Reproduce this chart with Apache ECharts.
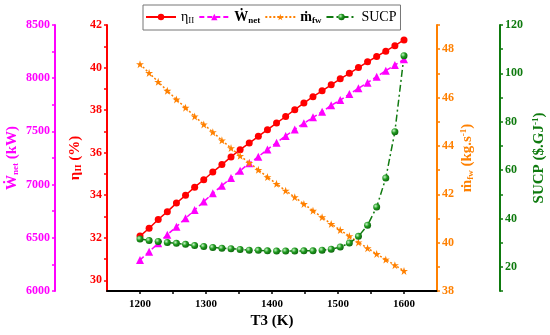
<!DOCTYPE html>
<html><head><meta charset="utf-8">
<script src="https://cdn.jsdelivr.net/npm/echarts@6/dist/echarts.min.js"></script>
<style>html,body{margin:0;padding:0;background:#fff}#c{width:550px;height:335px}</style>
</head><body><div id="c"></div>
<script>
// ---- data ----
const T3 = [1200, 1213.8, 1227.6, 1241.4, 1255.2, 1269.0, 1282.8, 1296.6, 1310.3, 1324.1, 1337.9, 1351.7, 1365.5, 1379.3, 1393.1, 1406.9, 1420.7, 1434.5, 1448.3, 1462.1, 1475.9, 1489.7, 1503.4, 1517.2, 1531.0, 1544.8, 1558.6, 1572.4, 1586.2, 1600];
const etaII = [32.08, 32.45, 32.86, 33.23, 33.63, 34.0, 34.38, 34.73, 35.09, 35.44, 35.80, 36.14, 36.45, 36.77, 37.08, 37.39, 37.70, 38.02, 38.33, 38.63, 38.91, 39.19, 39.47, 39.73, 40.0, 40.27, 40.52, 40.77, 41.03, 41.30];
const Wnet = [6291, 6370, 6448, 6529, 6605, 6683, 6761, 6840, 6918, 6990, 7062, 7131, 7200, 7262, 7331, 7394, 7457, 7519, 7576, 7632, 7685, 7745, 7795, 7851, 7905, 7958, 8014, 8071, 8124, 8177];
const mfw = [47.38, 47.02, 46.65, 46.28, 45.92, 45.58, 45.22, 44.89, 44.57, 44.23, 43.91, 43.59, 43.30, 43.01, 42.71, 42.43, 42.15, 41.88, 41.60, 41.32, 41.05, 40.77, 40.52, 40.27, 40.01, 39.77, 39.53, 39.30, 39.07, 38.83];
const SUCP = [31.5, 30.9, 30.5, 30.1, 29.7, 29.3, 28.8, 28.4, 28.0, 27.7, 27.5, 27.2, 26.9, 26.8, 26.6, 26.5, 26.5, 26.5, 26.6, 26.6, 26.9, 27.3, 28.2, 29.8, 32.6, 37.2, 44.7, 56.7, 75.9, 107.3];

const xLabels = [1200, 1300, 1400, 1500, 1600];
const xTicks = [1200, 1250, 1300, 1350, 1400, 1450, 1500, 1550, 1600];
const etaLabels = [30, 32, 34, 36, 38, 40, 42];
const etaTicks = [30, 31, 32, 33, 34, 35, 36, 37, 38, 39, 40, 41, 42];
const wLabels = [6000, 6500, 7000, 7500, 8000, 8500];
const wTicks = [6000, 6250, 6500, 6750, 7000, 7250, 7500, 7750, 8000, 8250, 8500];
const mLabels = [38, 40, 42, 44, 46, 48];
const mTicks = [38, 39, 40, 41, 42, 43, 44, 45, 46, 47, 48, 49];
const sLabels = [20, 40, 60, 80, 100, 120];
const sTicks = [10, 20, 30, 40, 50, 60, 70, 80, 90, 100, 110, 120];

// ---- style ----
const FONT = '"Liberation Serif","Times New Roman",serif';
const RED = '#ff0000', MAG = '#ff00ff', ORA = '#ff8000', GRN = '#0e7a0e';
const STAR = 'path://M50 0 L61.17 34.63 L97.55 34.55 L68.07 55.87 L79.39 90.45 L50 69 L20.61 90.45 L31.93 55.87 L2.45 34.55 L38.83 34.63 Z';

function zip(xs, ys) { return xs.map((x, i) => [x, ys[i]]); }
function plain(v) { return String(v); }

function nameRich(color) {
  return {
    a: { fontFamily: FONT, fontWeight: 'bold', fontSize: 15, color: color },
    s: { fontFamily: FONT, fontWeight: 'bold', fontSize: 9, color: color, padding: [7, 0, 0, 0] },
    p: { fontFamily: FONT, fontWeight: 'bold', fontSize: 9, color: color, padding: [0, 0, 7, 0] }
  };
}

function yAx(opts) {
  const c = opts.color;
  return {
    type: 'value', position: opts.position, offset: opts.offset,
    min: opts.min, max: opts.max,
    name: opts.name, nameLocation: 'middle', nameRotate: 90, nameGap: opts.nameGap,
    nameMoveOverlap: false,
    nameTextStyle: { rich: nameRich(c) },
    axisLine: { show: true, onZero: false, lineStyle: { color: c, width: 2 } },
    axisTick: { show: true, length: 3, customValues: opts.ticks, lineStyle: { color: c, width: 1.5 } },
    axisLabel: { customValues: opts.labels, formatter: plain, color: c, fontFamily: FONT, fontWeight: 'bold', fontSize: 12, margin: 5 },
    splitLine: { show: false }
  };
}

const chart = echarts.init(document.getElementById('c'), null, { renderer: 'canvas' });
chart.setOption({
  animation: false,
  backgroundColor: '#fff',
  grid: { left: 107, right: 113, top: 25, bottom: 44, containLabel: false, outerBoundsMode: 'none' },
  legend: {
    left: 143, top: 5, itemWidth: 30, itemHeight: 8, itemGap: 4,
    padding: [5, 4, 5, 2], borderColor: '#777', borderWidth: 1,
    textStyle: {
      fontFamily: FONT, fontSize: 14, color: '#000',
      rich: {
        a: { fontFamily: FONT, fontSize: 14, color: '#000' },
        b: { fontFamily: FONT, fontSize: 14, fontWeight: 'bold', color: '#000' },
        s: { fontFamily: FONT, fontSize: 9, color: '#000', padding: [7, 0, 0, 0] },
        sb: { fontFamily: FONT, fontSize: 9, fontWeight: 'bold', color: '#000', padding: [7, 0, 0, 0] }
      }
    },
    formatter: function (n) {
      if (n === 'eta') return '{a|η}{s|II}';
      if (n === 'W') return '{b|Ẇ}{sb|net}';
      if (n === 'm') return '{b|ṁ}{sb|fw}';
      return '{a|SUCP}';
    },
    data: ['eta', 'W', 'm', 'SUCP']
  },
  xAxis: {
    type: 'value', min: 1150, max: 1650,
    name: 'T3 (K)', nameLocation: 'middle', nameGap: 23, nameMoveOverlap: false,
    nameTextStyle: { fontFamily: FONT, fontWeight: 'bold', fontSize: 15, color: '#000' },
    axisLine: { onZero: false, lineStyle: { color: '#000', width: 2 } },
    axisTick: { length: 3, customValues: xTicks, lineStyle: { color: '#000', width: 1.5 } },
    axisLabel: { customValues: xLabels, formatter: plain, color: '#000', fontFamily: FONT, fontWeight: 'bold', fontSize: 11, margin: 8 },
    splitLine: { show: false }
  },
  yAxis: [
    yAx({ position: 'left', offset: 0, min: 29.5, max: 42, color: RED, labels: etaLabels, ticks: etaTicks,
          name: '{a|η}{s|II}{a| (%)}', nameGap: 24 }),
    yAx({ position: 'left', offset: 52, min: 6000, max: 8500, color: MAG, labels: wLabels, ticks: wTicks,
          name: '{a|Ẇ}{s|net}{a| (kW)}', nameGap: 35 }),
    yAx({ position: 'right', offset: 0, min: 38, max: 49, color: ORA, labels: mLabels, ticks: mTicks,
          name: '{a|ṁ}{s|fw}{a| (kg.s}{p|-1}{a|)}', nameGap: 22 }),
    yAx({ position: 'right', offset: 63, min: 10, max: 120, color: GRN, labels: sLabels, ticks: sTicks,
          name: '{a|SUCP ($.GJ}{p|-1}{a|)}', nameGap: 31 })
  ],
  series: [
    { name: 'eta', type: 'line', yAxisIndex: 0, data: zip(T3, etaII),
      symbol: 'circle', symbolSize: 7, itemStyle: { color: RED },
      lineStyle: { color: RED, width: 1.5 } },
    { name: 'W', type: 'line', yAxisIndex: 1, data: zip(T3, Wnet),
      symbol: 'triangle', symbolSize: 8, itemStyle: { color: MAG },
      lineStyle: { color: MAG, width: 1.5, type: [5, 3] } },
    { name: 'm', type: 'line', yAxisIndex: 2, data: zip(T3, mfw),
      symbol: STAR, symbolSize: 8, itemStyle: { color: ORA },
      lineStyle: { color: ORA, width: 1.5, type: [2, 2] } },
    { name: 'SUCP', type: 'line', yAxisIndex: 3, data: zip(T3, SUCP),
      symbol: 'circle', symbolSize: 7,
      itemStyle: { color: { type: 'radial', x: 0.35, y: 0.35, r: 0.75,
        colorStops: [{ offset: 0, color: '#c8f5c8' }, { offset: 0.45, color: '#1f9a1f' }, { offset: 1, color: '#0a5c0a' }] } },
      lineStyle: { color: '#117a11', width: 1.5, type: [7, 3, 2, 3] } }
  ]
});
</script>
</body></html>
